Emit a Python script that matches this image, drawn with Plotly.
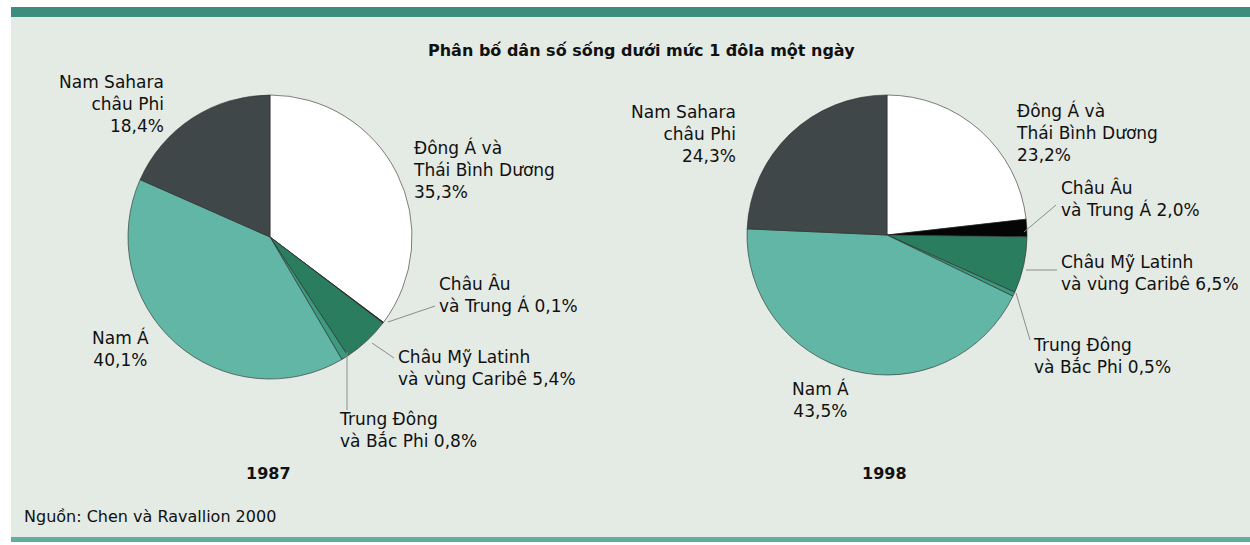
import plotly.graph_objects as go

W, H = 1250, 545

# Regions, in the clockwise order they are drawn from 12 o'clock
regions = [
    "Đông Á và Thái Bình Dương",
    "Châu Âu và Trung Á",
    "Châu Mỹ Latinh và vùng Caribê",
    "Trung Đông và Bắc Phi",
    "Nam Á",
    "Nam Sahara châu Phi",
]
share_1987 = [35.3, 0.1, 5.4, 0.8, 40.1, 18.4]
share_1998 = [23.2, 2.0, 6.5, 0.5, 43.5, 24.3]
years = ["1987", "1998"]

slice_colors = ["#ffffff", "#050505", "#2b7d5f", "#3c9a7e", "#62b6a6", "#3f4748"]

title_text = "Phân bố dân số sống dưới mức 1 đôla một ngày"
source_text = "Nguồn: Chen và Ravallion 2000"

FONT = "DejaVu Sans"
INK = "#111111"


def px(x):
    return x / W


def py(y):
    return 1 - y / H


def pie_domain(cx, cy, r):
    return dict(x=[px(cx - r), px(cx + r)], y=[py(cy + r), py(cy - r)])


fig = go.Figure()
for values, (cx, cy, r) in [(share_1987, (270, 237, 142)), (share_1998, (887, 235, 140))]:
    fig.add_trace(go.Pie(
        labels=regions,
        values=values,
        sort=False,
        direction="clockwise",
        rotation=0,
        textinfo="none",
        hoverinfo="label+percent",
        marker=dict(colors=slice_colors, line=dict(color="#2a2a2a", width=0.6)),
        domain=pie_domain(cx, cy, r),
        showlegend=False,
    ))


def fmt(v):
    return f"{v:.1f}".replace(".", ",") + "%"


def label(x, y, text, align="left", size=17, bold=False):
    if bold:
        text = f"<b>{text}</b>"
    return dict(x=px(x), y=py(y), xref="paper", yref="paper", text=text,
                showarrow=False, xanchor=align, yanchor="top", align=align,
                font=dict(family=FONT, size=size, color=INK))


a87, a98 = share_1987, share_1998
annotations = [
    label(642, 39, title_text, "center", 16, True),
    # 1987
    label(166, 70, f"Nam Sahara<br>châu Phi<br>{fmt(a87[5])}", "right"),
    label(411, 135, f"Đông Á và<br>Thái Bình Dương<br>{fmt(a87[0])}"),
    label(437, 271, f"Châu Âu<br>và Trung Á {fmt(a87[1])}"),
    label(396, 345, f"Châu Mỹ Latinh<br>và vùng Caribê {fmt(a87[2])}"),
    label(337, 407, f"Trung Đông<br>và Bắc Phi {fmt(a87[3])}"),
    label(120, 325, f"Nam Á<br>{fmt(a87[4])}", "center"),
    label(268, 462, years[0], "center", 16, True),
    # 1998
    label(738, 100, f"Nam Sahara<br>châu Phi<br>{fmt(a98[5])}", "right"),
    label(1014, 98, f"Đông Á và<br>Thái Bình Dương<br>{fmt(a98[0])}"),
    label(1059, 175, f"Châu Âu<br>và Trung Á {fmt(a98[1])}"),
    label(1059, 250, f"Châu Mỹ Latinh<br>và vùng Caribê {fmt(a98[2])}"),
    label(1031, 333, f"Trung Đông<br>và Bắc Phi {fmt(a98[3])}"),
    label(820, 376, f"Nam Á<br>{fmt(a98[4])}", "center"),
    label(884, 462, years[1], "center", 16, True),
    label(22, 505, source_text, "left", 16),
]

shapes = [
    # panel background and its top/bottom bands
    dict(type="rect", xref="paper", yref="paper", x0=px(11), x1=px(1250), y0=py(542), y1=py(7),
         fillcolor="#e4eae4", line=dict(width=0), layer="below"),
    dict(type="rect", xref="paper", yref="paper", x0=px(11), x1=px(1250), y0=py(17), y1=py(7),
         fillcolor="#3d8d7e", line=dict(width=0), layer="below"),
    dict(type="rect", xref="paper", yref="paper", x0=px(11), x1=px(1250), y0=py(542), y1=py(537),
         fillcolor="#5fae9e", line=dict(width=0), layer="below"),
]


def leader(x0, y0, x1, y1):
    return dict(type="line", xref="paper", yref="paper", x0=px(x0), y0=py(y0), x1=px(x1), y1=py(y1),
                line=dict(color="#8c8c8c", width=1))


shapes += [
    leader(388, 322, 435, 306),
    leader(372, 343, 394, 358),
    leader(347, 352, 347, 410),
    leader(1024, 232, 1056, 205),
    leader(1026, 270, 1057, 270),
    leader(1016, 293, 1030, 340),
]

fig.update_layout(
    width=W, height=H,
    margin=dict(l=0, r=0, t=0, b=0),
    paper_bgcolor="#ffffff",
    plot_bgcolor="#ffffff",
    annotations=annotations,
    shapes=shapes,
)

fig.write_html("out.html")
